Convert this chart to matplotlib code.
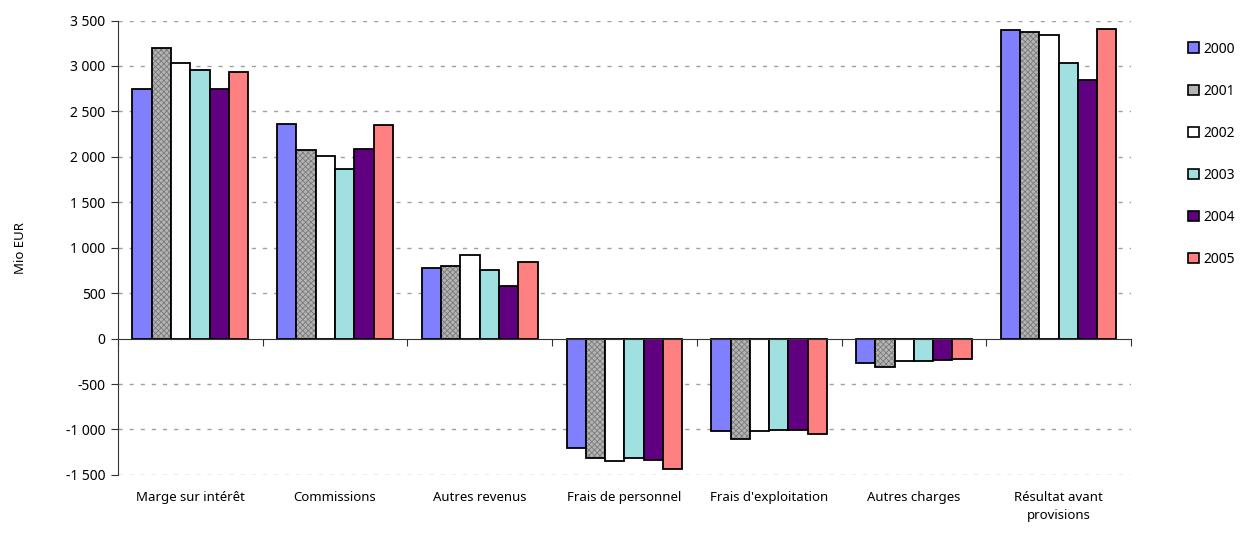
import numpy as np
import matplotlib.pyplot as plt
from matplotlib.patches import Patch
from matplotlib.ticker import FuncFormatter
import matplotlib.transforms as mtransforms

plt.rcParams['font.family'] = ['Noto Sans', 'DejaVu Sans']
plt.rcParams['hatch.linewidth'] = 0.6

categories = ['Marge sur intérêt', 'Commissions', 'Autres revenus',
              'Frais de personnel', "Frais d'exploitation", 'Autres charges',
              'Résultat avant\nprovisions']
years = ['2000', '2001', '2002', '2003', '2004', '2005']

v2000 = [2750, 2360, 780, -1200, -1020, -270, 3400]
v2001 = [3200, 2080, 800, -1310, -1100, -310, 3370]
v2002 = [3030, 2010, 920, -1350, -1020, -250, 3340]
v2003 = [2960, 1870, 760, -1310, -1010, -250, 3030]
v2004 = [2750, 2090, 580, -1340, -1010, -240, 2840]
v2005 = [2930, 2350, 840, -1440, -1050, -230, 3410]

series = [v2000, v2001, v2002, v2003, v2004, v2005]
colors = ['#8080ff', '#b4b4b4', '#ffffff', '#a0e0e0', '#600080', '#ff8080']
hatches = [None, 'xxxxxx', None, None, None, None]
hatch_col = '#7a7a7a'

fig = plt.figure(figsize=(12.42, 5.33), dpi=100)
ax = fig.add_axes([0.095, 0.109, 0.8156, 0.8525])

x = np.arange(len(categories))
w = 0.8 / len(series)
for i, vals in enumerate(series):
    pos = x - 0.4 + w * (i + 0.5)
    if hatches[i]:
        # hatch takes the edge colour, so fill first and outline after
        ax.bar(pos, vals, width=w, color=colors[i], edgecolor=hatch_col,
               linewidth=0, hatch=hatches[i], zorder=3)
        ax.bar(pos, vals, width=w, fill=False, edgecolor='black',
               linewidth=1.3, zorder=3)
    else:
        ax.bar(pos, vals, width=w, color=colors[i], edgecolor='black',
               linewidth=1.3, zorder=3)

ax.set_xlim(-0.5, len(categories) - 0.5)
ax.set_ylim(-1500, 3500)
ax.set_yticks(np.arange(-1500, 3501, 500))
ax.yaxis.set_major_formatter(FuncFormatter(
    lambda v, p: '{:,.0f}'.format(v).replace(',', ' ')))

# dashed grid, zero line drawn by the spine
for yv in np.arange(-1500, 3501, 500):
    if yv != 0:
        ax.axhline(yv, color='#a0a0a0', lw=1.0, ls=(0, (3, 5)), zorder=1)

for s in ['top', 'right']:
    ax.spines[s].set_visible(False)
ax.spines['bottom'].set_position(('data', 0))
ax.spines['bottom'].set_zorder(4)
ax.spines['left'].set_color('#333333')
ax.spines['bottom'].set_color('#333333')

ax.set_xticks(np.arange(len(categories) + 1) - 0.5)
ax.set_xticklabels([])
ax.tick_params(axis='x', direction='out', length=5, color='#333333')
ax.tick_params(axis='y', direction='out', length=5, color='#333333',
               labelsize=10, pad=4)

trans = mtransforms.blended_transform_factory(ax.transData, ax.transAxes)
for xi, name in zip(x, categories):
    ax.text(xi, -0.035, name, transform=trans, ha='center', va='top',
            fontsize=9.5, linespacing=1.5)

ax.set_ylabel('Mio EUR', fontsize=9.5, labelpad=28)

handles = [Patch(facecolor=c, edgecolor='black', linewidth=1.2)
           for c in colors]
fig.legend(handles, years, loc='upper left', bbox_to_anchor=(0.951, 0.935),
           frameon=False, fontsize=10, handlelength=0.8, handleheight=0.8,
           handletextpad=0.3, labelspacing=1.95, borderpad=0)

fig.savefig('out.png', dpi=100)
